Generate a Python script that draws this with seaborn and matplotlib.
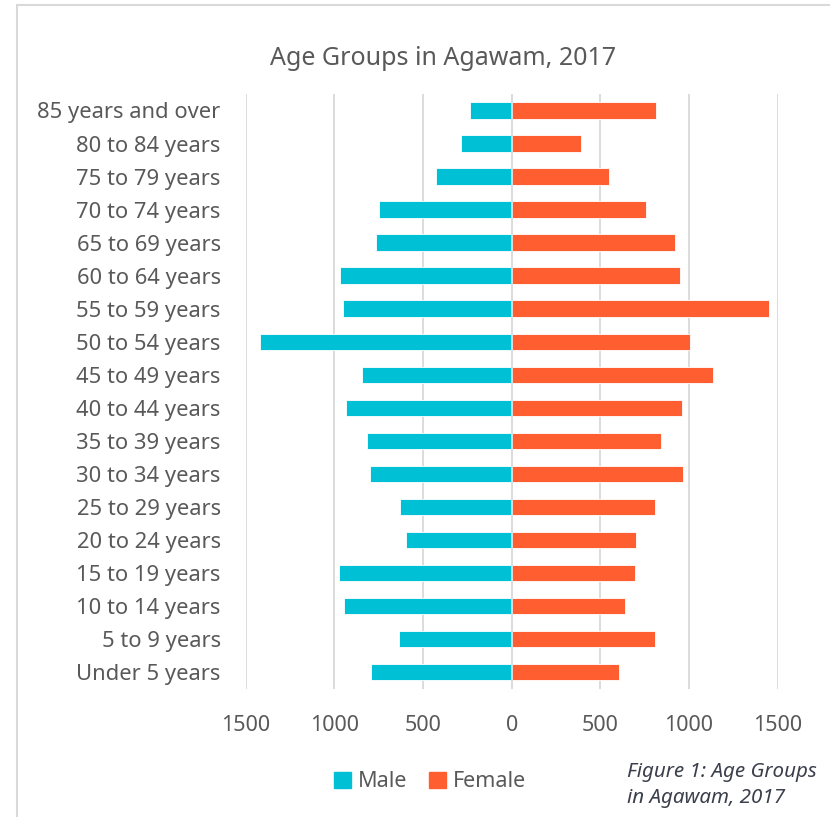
import pandas as pd
import numpy as np
import matplotlib.pyplot as plt
import seaborn as sns
from matplotlib.lines import Line2D
from matplotlib.patches import Patch

# Age groups, top to bottom as shown in the chart
age_groups = ['85 years and over', '80 to 84 years', '75 to 79 years', '70 to 74 years',
              '65 to 69 years', '60 to 64 years', '55 to 59 years', '50 to 54 years',
              '45 to 49 years', '40 to 44 years', '35 to 39 years', '30 to 34 years',
              '25 to 29 years', '20 to 24 years', '15 to 19 years', '10 to 14 years',
              '5 to 9 years', 'Under 5 years']
male = [233, 284, 427, 751, 767, 970, 949, 1422, 842,
        936, 814, 799, 630, 594, 975, 945, 635, 791]
female = [815, 392, 548, 755, 921, 949, 1449, 1005, 1137,
          962, 840, 967, 810, 699, 693, 639, 810, 605]
ticks = [-1500, -1000, -500, 0, 500, 1000, 1500]

male_color = '#00C0D6'
female_color = '#FF5F30'
text_color = '#595959'
grid_color = '#D9D9D9'

sns.set_style('white')
plt.rcParams['font.family'] = ['Noto Sans', 'DejaVu Sans']

df = pd.DataFrame({
    'group': age_groups * 2,
    'sex': ['Male'] * len(age_groups) + ['Female'] * len(age_groups),
    'value': [-v for v in male] + female,
})

fig = plt.figure(figsize=(8.30, 8.17), dpi=100)
ax = fig.add_axes([0.296, 0.157, 0.641, 0.728])

sns.barplot(data=df, x='value', y='group', hue='sex', order=age_groups,
            hue_order=['Male', 'Female'], palette=[male_color, female_color],
            dodge=False, width=0.5, orient='h', saturation=1, edgecolor='white',
            linewidth=0.6, legend=False, ax=ax, zorder=2)

ax.set_xlim(-1500, 1500)
ax.set_xticks(ticks)
ax.set_xticklabels([str(abs(t)) for t in ticks])
for t in ticks:
    ax.axvline(t, color=grid_color, lw=1.3, zorder=1 if t != 0 else 3)

ax.set_xlabel('')
ax.set_ylabel('')
sns.despine(ax=ax, left=True, bottom=True)
ax.tick_params(axis='x', length=0, pad=19, labelsize=15.5, labelcolor=text_color)
ax.tick_params(axis='y', length=0, pad=18, labelsize=15.8, labelcolor=text_color)

fig.text(0.534, 0.929, 'Age Groups in Agawam, 2017', ha='center', va='center',
         fontsize=18, color=text_color)

handles = [Patch(color=male_color, label='Male'), Patch(color=female_color, label='Female')]
fig.legend(handles=handles, loc='center', bbox_to_anchor=(0.518, 0.043), ncol=2,
           frameon=False, fontsize=15.5, labelcolor=text_color, handlelength=0.8,
           handleheight=0.8, handletextpad=0.3, columnspacing=1.0)

fig.text(0.755, 0.039, 'Figure 1: Age Groups\nin Agawam, 2017', ha='left', va='center',
         fontsize=14.8, style='italic', color='#3A3F4B', linespacing=1.42)

# chart border (top and left edges visible)
fig.add_artist(Line2D([17 / 830, 17 / 830], [0, 1 - 5 / 817], color=grid_color, lw=1.5))
fig.add_artist(Line2D([17 / 830, 1], [1 - 5 / 817, 1 - 5 / 817], color=grid_color, lw=1.5))

plt.savefig('out.png', dpi=100)
plt.close()
